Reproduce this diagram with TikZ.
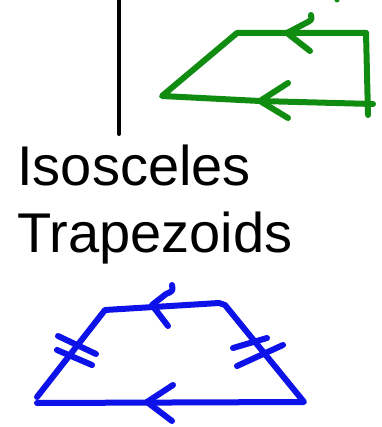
\documentclass[tikz,border=0pt]{standalone}
\usepackage{fontspec}
\setmainfont{Liberation Sans}
\usetikzlibrary{positioning}
\definecolor{PenGreen}{RGB}{16,140,16}
\definecolor{PenBlue}{RGB}{12,18,232}

\begin{document}
\begin{tikzpicture}[x=0.5pt, y=-0.5pt, line cap=round, line join=round,
    pen/.style={line width=3pt}]
  \useasboundingbox (0,0) rectangle (381,427);
  % divider
  \coordinate (lt) at (119,0);
  \coordinate (lb) at (119,134);
  \draw[line width=2pt] (lt) -- (lb);
  % green trapezoid
  \coordinate (gtr) at (366,33);
  \coordinate (gtl) at (237,33);
  \coordinate (gbl) at (162,96);
  \coordinate (gbr) at (373,104);
  \coordinate (gend) at (368,115);
  \draw[pen, PenGreen] (gtr) -- (gtl) -- (gbl) -- (260,101) -- (gbr);
  \draw[pen, PenGreen] (gtr) -- (gend);
  \draw[pen, PenGreen] (311,15) .. controls (312,20) .. (304,24) -- (287,33) -- (310,51);
  \draw[pen, PenGreen] (288,83) -- (260,101) -- (288,118);
  \fill[PenGreen] (337,0) circle (2.5);
  % label
  \node[anchor=base west, inner sep=0pt, font=\fontsize{28pt}{33pt}\selectfont]
    (iso) at (17,185) {Isosceles};
  \node[anchor=base west, inner sep=0pt, font=\fontsize{28pt}{33pt}\selectfont]
    (trap) at (17,252) {Trapezoids};
  % blue trapezoid
  \coordinate (btl) at (105,310);
  \coordinate (btr) at (219,303);
  \coordinate (bbr) at (304,402);
  \coordinate (bbl) at (37,403);
  \draw[pen, PenBlue] (37,397) -- (btl) -- (btr) -- (225,305) -- (bbr) -- (bbl);
  \draw[pen, PenBlue] (172,285) .. controls (173,291) .. (166,294) -- (152,305) -- (168,326);
  \draw[pen, PenBlue] (173,385) -- (147,402) -- (172,421);
  \draw[pen, PenBlue] (58,336) -- (96,354);
  \draw[pen, PenBlue] (57,350) -- (92,365);
  \draw[pen, PenBlue] (233,348) -- (267,338);
  \draw[pen, PenBlue] (237,366) -- (283,345);
\end{tikzpicture}
\end{document}
